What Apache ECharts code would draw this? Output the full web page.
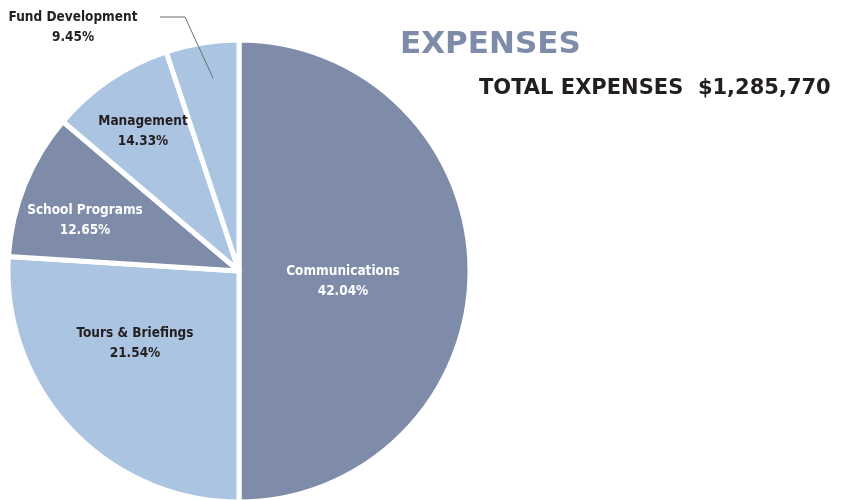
<!DOCTYPE html>
<html>
<head>
<meta charset="utf-8">
<script src="https://cdn.jsdelivr.net/npm/echarts@6/dist/echarts.min.js"></script>
<style>
html,body{margin:0;padding:0;background:#fff;}
#chart{width:843px;height:500px;}
</style>
</head>
<body>
<div id="chart"></div>
<script>
// ---- data ----
const categories = ['Communications', 'Tours & Briefings', 'School Programs', 'Management', 'Fund Development'];
// share of the circle each slice occupies in the drawing
const sliceValues = [50.0, 26.0, 10.2, 8.7, 5.1];
// percentages printed on the slices
const percentLabels = ['42.04%', '21.54%', '12.65%', '14.33%', '9.45%'];
const titleText = 'EXPENSES';
const totalText = 'TOTAL EXPENSES  $1,285,770';

// ---- styling / layout ----
const DARK = '#7E8BA9';
const LIGHT = '#ABC4E2';
const sliceColors = [DARK, LIGHT, DARK, LIGHT, LIGHT];
const labelColors = ['#ffffff', '#231F20', '#ffffff', '#231F20', '#231F20'];
const labelCenters = [[343, 281], [135, 343], [85, 220], [143, 131], [73, 27]];
const leaderPoints = [[160, 17], [185, 17], [213, 78]];
const labelFont = "'DejaVu Sans Condensed', 'DejaVu Sans', sans-serif";

const chart = echarts.init(document.getElementById('chart'), null, {renderer: 'canvas'});

const data = categories.map((name, i) => ({
  name: name,
  value: sliceValues[i],
  itemStyle: {color: sliceColors[i]},
  label: {
    show: true,
    position: i === 4 ? 'outside' : 'inside',
    color: labelColors[i],
    formatter: name + '\n' + percentLabels[i]
  },
  labelLine: {show: false}
}));

chart.setOption({
  backgroundColor: '#ffffff',
  animation: false,
  title: [{
    text: titleText,
    left: 400, top: 29, padding: 0,
    textStyle: {fontFamily: "'DejaVu Sans', sans-serif", fontWeight: 'bold', fontSize: 31, color: DARK}
  }, {
    text: totalText,
    left: 479, top: 78, padding: 0,
    textStyle: {fontFamily: "'DejaVu Sans', sans-serif", fontWeight: 'bold', fontSize: 21, color: '#231F20'}
  }],
  graphic: [{
    type: 'polyline',
    z: 100,
    silent: true,
    shape: {points: leaderPoints},
    style: {stroke: '#6D6E71', lineWidth: 1, fill: null}
  }],
  series: [{
    type: 'pie',
    center: [239, 271],
    radius: [0, 231],
    startAngle: 90,
    clockwise: true,
    avoidLabelOverlap: false,
    itemStyle: {borderColor: '#ffffff', borderWidth: 5},
    label: {
      fontFamily: labelFont,
      fontWeight: 'bold',
      fontSize: 13.5,
      lineHeight: 20,
      align: 'center'
    },
    labelLayout: function (p) {
      const c = labelCenters[p.dataIndex];
      return {x: c[0], y: c[1], align: 'center', verticalAlign: 'middle'};
    },
    emphasis: {disabled: true},
    data: data
  }]
});
</script>
</body>
</html>
